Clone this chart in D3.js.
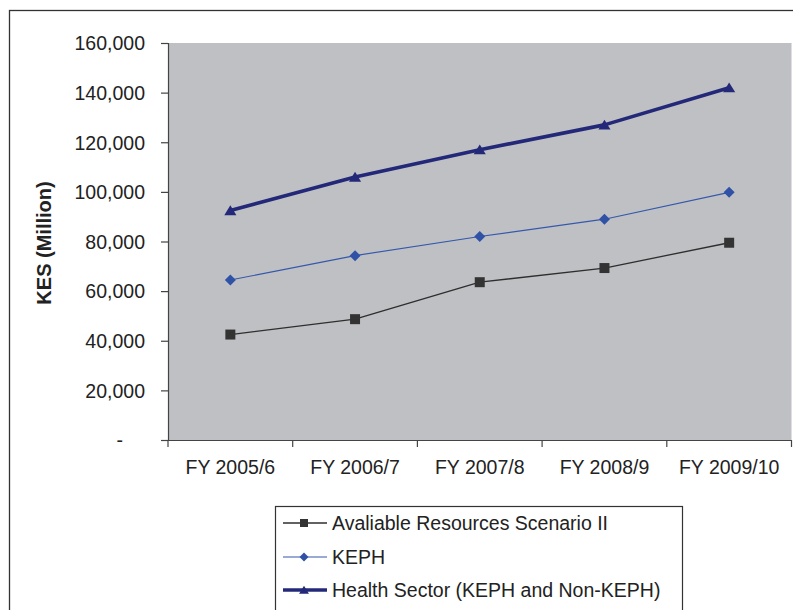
<!DOCTYPE html>
<html>
<head>
<meta charset="utf-8">
<script src="https://cdn.jsdelivr.net/npm/d3@7"></script>
<style>
  html, body { margin: 0; padding: 0; background: #fff; }
  svg { display: block; font-family: "Liberation Sans", Arial, sans-serif; }
</style>
</head>
<body>
<svg id="chart" width="793" height="610"></svg>
<script>
// Fiscal years on the category axis
const categories = ["FY 2005/6", "FY 2006/7", "FY 2007/8", "FY 2008/9", "FY 2009/10"];

// Series values, KES million
const availableResources = [42500, 48700, 63600, 69300, 79500];
const keph = [64500, 74300, 82000, 89000, 99800];
const healthSector = [92500, 106000, 117000, 127000, 142000];

// Value-axis ticks
const yTicks = [0, 20000, 40000, 60000, 80000, 100000, 120000, 140000, 160000];

const seriesNames = [
  "Avaliable Resources Scenario II",
  "KEPH",
  "Health Sector (KEPH and Non-KEPH)"
];

const svg = d3.select("#chart");

const plot = { left: 168, right: 791.5, top: 43, bottom: 440 };

// Outer chart frame
svg.append("rect")
  .attr("x", 9.5).attr("y", 10.5)
  .attr("width", 800).attr("height", 620)
  .attr("fill", "#fff")
  .attr("stroke", "#333").attr("stroke-width", 1.3);

const x = d3.scaleBand()
  .domain(categories)
  .range([plot.left, plot.right])
  .paddingInner(0).paddingOuter(0);

const y = d3.scaleLinear()
  .domain([0, 160000])
  .range([plot.bottom, plot.top]);

// Plot area background
svg.append("rect")
  .attr("x", plot.left).attr("y", plot.top)
  .attr("width", plot.right - plot.left)
  .attr("height", plot.bottom - plot.top)
  .attr("fill", "#bfc0c4");

// Value axis
const yAxis = d3.axisLeft(y)
  .tickValues(yTicks)
  .tickSize(7)
  .tickPadding(16)
  .tickFormat(d => d === 0 ? "-" : d3.format(",")(d));

const gy = svg.append("g")
  .attr("transform", `translate(${plot.left},0)`)
  .call(yAxis);
gy.select(".domain").attr("stroke", "#444").attr("stroke-width", 1.2);
gy.selectAll(".tick line").attr("stroke", "#444").attr("stroke-width", 1.2);
gy.selectAll(".tick text")
  .attr("fill", "#222")
  .style("font-size", "19.5px")
  .attr("dy", "0.35em");
gy.selectAll(".tick text").filter(d => d === 0).attr("dx", -22);

// Category axis: ticks sit between categories
const xAxis = d3.axisBottom(x).tickSize(0).tickPadding(20);
const gx = svg.append("g")
  .attr("transform", `translate(0,${plot.bottom})`)
  .call(xAxis);
gx.select(".domain").attr("stroke", "#444").attr("stroke-width", 1.2);
gx.selectAll(".tick text")
  .attr("fill", "#222")
  .style("font-size", "19.5px");

const boundaries = categories.map(c => x(c)).concat([x.range()[1]]);
gx.selectAll(".sep")
  .data(boundaries)
  .enter().append("line")
  .attr("class", "sep")
  .attr("x1", d => d).attr("x2", d => d)
  .attr("y1", 0).attr("y2", 7)
  .attr("stroke", "#444").attr("stroke-width", 1.2);

// Axis title
svg.append("text")
  .attr("transform", "translate(51,243) rotate(-90)")
  .attr("text-anchor", "middle")
  .style("font-size", "20px")
  .style("font-weight", "bold")
  .attr("fill", "#222")
  .text("KES (Million)");

const cx = c => x(c) + x.bandwidth() / 2;

// Marker shapes scaled by a half-width r
const markerPath = {
  square: r => `M${-r},${-r}H${r}V${r}H${-r}Z`,
  diamond: r => `M0,${-r}L${r},0L0,${r}L${-r},0Z`,
  triangle: r => `M0,${-r * 0.95}L${r * 1.1},${r * 0.85}L${-r * 1.1},${r * 0.85}Z`
};

const series = [
  { name: seriesNames[0], values: availableResources, color: "#2e2e2e", marker: "#333333", width: 1.3, shape: "square", r: 5, lr: 4 },
  { name: seriesNames[1], values: keph, color: "#3458ac", marker: "#2f52a6", width: 1.1, shape: "diamond", r: 5.5, lr: 4.5 },
  { name: seriesNames[2], values: healthSector, color: "#232878", marker: "#232878", width: 3.6, shape: "triangle", r: 5.5, lr: 4.5 }
];

const line = d3.line()
  .x((d, i) => cx(categories[i]))
  .y(d => y(d));

series.forEach(s => {
  svg.append("path")
    .datum(s.values)
    .attr("d", line)
    .attr("fill", "none")
    .attr("stroke", s.color)
    .attr("stroke-width", s.width)
    .attr("stroke-linejoin", "round");

  svg.selectAll(null)
    .data(s.values)
    .enter().append("path")
    .attr("d", markerPath[s.shape](s.r))
    .attr("transform", (d, i) => `translate(${cx(categories[i])},${y(d)})`)
    .attr("fill", s.marker);
});

// Legend
const legend = svg.append("g");
legend.append("rect")
  .attr("x", 275.5).attr("y", 506.5)
  .attr("width", 407).attr("height", 120)
  .attr("fill", "#fff")
  .attr("stroke", "#333").attr("stroke-width", 1.2);

const rowY = [523, 557, 590];
series.forEach((s, i) => {
  const g = legend.append("g").attr("transform", `translate(0,${rowY[i]})`);
  g.append("line")
    .attr("x1", 283).attr("x2", 327)
    .attr("y1", 0).attr("y2", 0)
    .attr("stroke", s.color)
    .attr("stroke-width", s.width);
  g.append("path")
    .attr("d", markerPath[s.shape](s.lr))
    .attr("transform", "translate(304,0)")
    .attr("fill", s.marker);
  g.append("text")
    .attr("x", 332).attr("y", 0)
    .attr("dy", "0.35em")
    .style("font-size", "19.5px")
    .attr("fill", "#222")
    .text(s.name);
});
</script>
</body>
</html>
